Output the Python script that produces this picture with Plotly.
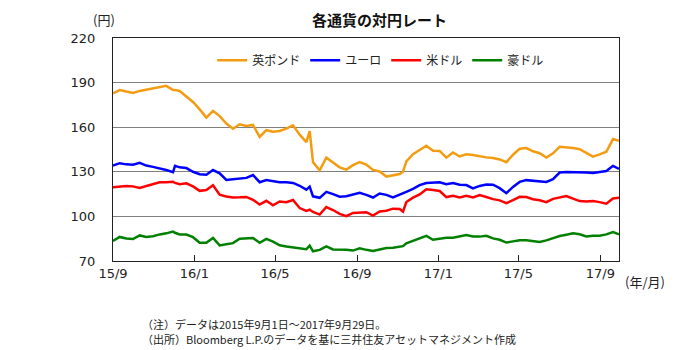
import pandas as pd
import plotly.graph_objects as go

# days since 2015-09-01
days = [0, 10, 20, 30, 40, 50, 60, 70, 80, 90, 93, 100, 110, 120, 130, 140, 150, 160, 170, 180,
        190, 200, 210, 220, 230, 240, 250, 260, 270, 280, 290, 295, 300, 310, 320, 330, 340, 350, 360, 370,
        380, 390, 400, 410, 420, 430, 435, 440, 450, 460, 470, 480, 490, 500, 510, 520, 530, 540, 550, 560,
        570, 580, 590, 600, 610, 620, 630, 640, 650, 660, 670, 680, 690, 700, 710, 720, 730, 740, 750, 759]

gbp = [182.8, 185.0, 184.0, 183.0, 184.4, 185.2, 186.0, 186.8, 187.8, 185.0, 185.0, 184.4, 180.7, 177.0, 172.0, 166.5, 171.0, 167.5, 162.5, 159.0,
       162.0, 160.8, 161.5, 153.5, 158.0, 157.0, 157.5, 159.0, 161.3, 155.0, 150.0, 157.4, 136.5, 131.0, 139.5, 136.5, 133.0, 131.5, 134.5, 136.5,
       134.8, 131.3, 130.2, 126.8, 127.6, 128.5, 130.0, 137.0, 141.8, 144.6, 147.5, 144.1, 144.0, 139.5, 143.0, 140.3, 141.8, 141.3, 140.3, 139.7,
       139.3, 138.3, 136.5, 141.5, 145.5, 146.0, 143.8, 142.5, 139.6, 142.4, 146.8, 146.5, 146.0, 145.2, 142.5, 140.2, 141.7, 143.5, 152.0, 150.8]

eur = [134.1, 135.8, 135.0, 134.8, 136.0, 134.2, 133.3, 132.3, 131.2, 129.7, 134.0, 133.0, 132.5, 130.0, 128.4, 128.0, 131.2, 129.0, 124.5, 125.0,
       125.7, 125.9, 127.8, 123.0, 124.4, 123.5, 123.0, 122.9, 122.5, 120.6, 118.0, 120.0, 113.5, 112.5, 116.5, 115.0, 113.3, 113.5, 114.8, 115.8,
       114.5, 112.7, 115.4, 114.5, 112.8, 114.6, 115.2, 116.5, 118.5, 121.0, 122.5, 122.9, 122.9, 121.6, 122.4, 121.3, 121.1, 118.8, 120.5, 121.5,
       121.3, 119.0, 115.6, 119.8, 123.2, 124.4, 124.0, 123.8, 123.2, 125.0, 129.5, 129.8, 129.8, 129.9, 129.5, 129.2, 130.0, 130.5, 134.0, 132.0]

usd = [119.6, 120.3, 120.5, 120.2, 119.2, 120.4, 121.9, 122.9, 122.9, 123.3, 122.5, 121.7, 122.3, 120.2, 117.2, 117.8, 121.0, 114.6, 113.4, 112.7,
       112.8, 113.1, 111.2, 108.0, 110.5, 107.5, 110.0, 109.5, 111.0, 105.6, 103.7, 104.5, 103.0, 101.2, 106.3, 104.3, 101.7, 100.2, 102.3, 102.8,
       102.8, 100.6, 103.3, 103.8, 105.2, 105.0, 103.2, 109.7, 112.6, 114.8, 118.3, 117.8, 117.1, 113.0, 113.8, 112.7, 113.8, 112.7, 114.3, 113.0,
       111.6, 110.8, 108.9, 110.9, 113.2, 113.0, 111.5, 110.8, 109.6, 111.8, 112.6, 113.7, 112.0, 110.3, 110.0, 110.3, 109.6, 108.5, 112.0, 112.6]

aud = [83.5, 86.2, 85.2, 84.8, 87.2, 86.2, 86.6, 87.9, 88.6, 89.8, 89.0, 87.8, 87.8, 86.0, 82.3, 82.2, 85.5, 80.5, 81.3, 82.0,
       85.0, 85.1, 85.5, 82.2, 84.9, 83.0, 80.6, 79.8, 79.0, 78.6, 77.9, 80.3, 76.5, 77.5, 79.8, 77.8, 77.8, 77.6, 77.0, 78.5,
       77.5, 76.7, 77.7, 78.8, 78.9, 79.5, 80.0, 81.9, 83.4, 85.2, 86.9, 84.3, 85.0, 85.7, 85.7, 86.3, 87.4, 86.5, 86.4, 86.9,
       85.2, 84.3, 82.4, 83.2, 84.0, 84.0, 83.4, 82.8, 83.9, 85.5, 86.8, 87.7, 88.6, 88.0, 86.5, 87.0, 87.0, 87.9, 89.5, 87.9]

names = ["英ポンド", "ユーロ", "米ドル", "豪ドル"]
colors = ["#F39C12", "#0000FF", "#FF0000", "#008000"]
series = [gbp, eur, usd, aud]

tick_vals = ["2015-09-01", "2016-01-01", "2016-05-01", "2016-09-01", "2017-01-01", "2017-05-01", "2017-09-01"]
tick_text = ["15/9", "16/1", "16/5", "16/9", "17/1", "17/5", "17/9"]
y_ticks = [70, 100, 130, 160, 190, 220]

dates = pd.Timestamp("2015-09-01") + pd.to_timedelta(days, unit="D")

FONT = "DejaVu Sans, Noto Sans CJK JP"
CJK = "Noto Sans CJK JP"

fig = go.Figure()
for n, c, s in zip(names, colors, series):
    fig.add_trace(go.Scatter(x=dates, y=s, name=n, mode="lines",
                             line=dict(color=c, width=2.5)))

fig.update_layout(
    width=690, height=350,
    margin=dict(l=113, r=71, t=38, b=89),
    paper_bgcolor="white", plot_bgcolor="white",
    font=dict(family=FONT, size=13, color="#222"),
    showlegend=True,
    legend=dict(orientation="h", x=0.196, y=0.90, xanchor="left", yanchor="middle",
                font=dict(family=CJK, size=12, color="#222"), bgcolor="rgba(0,0,0,0)",
                itemwidth=30),
    xaxis=dict(range=["2015-09-01", "2017-09-29"], tickvals=tick_vals, ticktext=tick_text,
               showgrid=False, showline=True, linecolor="#222", linewidth=1, mirror=True,
               ticks="inside", ticklen=6, tickcolor="#222", zeroline=False,
               tickfont=dict(family=FONT, size=13, color="#222")),
    yaxis=dict(range=[70, 220], tickvals=y_ticks, showgrid=True, gridcolor="#808080", gridwidth=1,
               showline=True, linecolor="#222", linewidth=1, mirror=True, ticks="",
               zeroline=False, ticklabelstandoff=14,
               tickfont=dict(family=FONT, size=13, color="#222")),
)

def note(text, x, y, size, xanchor="center", color="#222"):
    fig.add_annotation(text=text, xref="paper", yref="paper", x=x, y=y,
                       xanchor=xanchor, yanchor="middle", showarrow=False, align="left",
                       font=dict(family=CJK, size=size, color=color))

note("<b>各通貨の対円レート</b>", 0.526, 1.081, 15, color="#111")
note("(円)", -0.017, 1.081, 13)
note("(年/月)", 1.051, -0.09, 13)
note("（注）データは2015年9月1日～2017年9月29日。", 0.054, -0.283, 11, xanchor="left")
note("（出所）Bloomberg L.P.のデータを基に三井住友アセットマネジメント作成", 0.054, -0.350, 11, xanchor="left")

fig.write_html("out.html")
